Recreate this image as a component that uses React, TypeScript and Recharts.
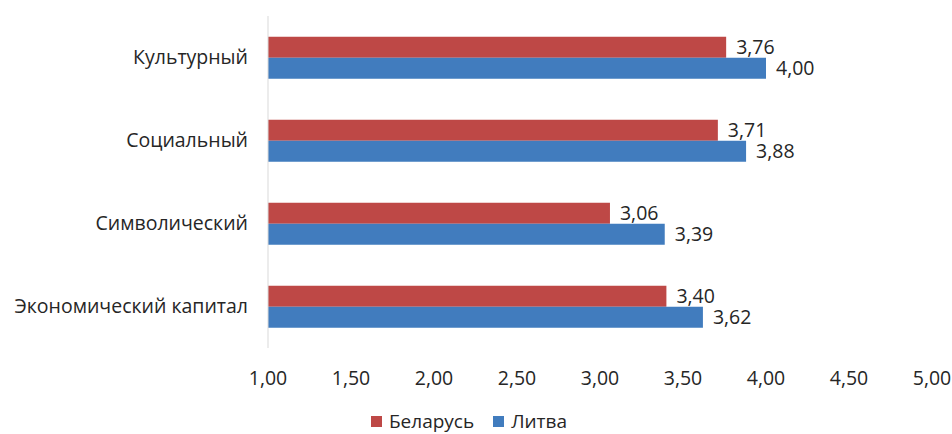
import { BarChart, Bar, XAxis, YAxis, Legend, LabelList } from "recharts";

const categories = ["Культурный", "Социальный", "Символический", "Экономический капитал"];
const belarus = [3.76, 3.71, 3.06, 3.4];
const lithuania = [4.0, 3.88, 3.39, 3.62];
const xTicks = [1, 1.5, 2, 2.5, 3, 3.5, 4, 4.5, 5];

const data = categories.map((name, i) => ({
  name,
  "Беларусь": belarus[i],
  "Литва": lithuania[i],
}));

const fmt = (v: number) => v.toFixed(2).replace(".", ",");

const FONT = "'Open Sans', sans-serif";
const TEXT = "#262626";
const FS = 19.5;

const LegendContent = ({ payload }: any) => (
  <div style={{ display: "flex", justifyContent: "center", alignItems: "center", fontSize: 19, lineHeight: "24px", fontFamily: FONT, color: TEXT, paddingLeft: 6, paddingTop: 5 }}>
    {(payload || []).map((p: any, i: number) => (
      <div key={i} style={{ display: "flex", alignItems: "center", marginLeft: i ? 19 : 0 }}>
        <span style={{ width: 11, height: 11, background: p.color, display: "inline-block", marginRight: 7 }} />
        <span>{p.value}</span>
      </div>
    ))}
  </div>
);

export default function App() {
  return (
    <div style={{ position: "absolute", left: 0, top: 0, width: 952, height: 434, background: "#fff", fontFamily: FONT }}>
      <BarChart
        width={952}
        height={434}
        data={data}
        layout="vertical"
        margin={{ top: 16, right: 20, left: 0, bottom: 0 }}
        barCategoryGap="25%"
        barGap={0}
      >
        <XAxis
          type="number"
          domain={[1, 5]}
          ticks={xTicks}
          tickFormatter={fmt}
          axisLine={false}
          tickLine={false}
          height={56}
          tickMargin={17}
          tick={{ fontSize: FS, fill: TEXT, fontFamily: FONT }}
          interval={0}
        />
        <YAxis
          type="category"
          dataKey="name"
          width={268}
          axisLine={{ stroke: "#D9D9D9" }}
          tickLine={false}
          tickMargin={14}
          tick={{ fontSize: FS, fill: TEXT, fontFamily: FONT }}
          interval={0}
        />
        <Legend
          verticalAlign="bottom"
          height={30}
          content={<LegendContent />}
          wrapperStyle={{ bottom: 0 }}
        />
        <Bar dataKey="Беларусь" fill="#BE4846" isAnimationActive={false}>
          <LabelList dataKey="Беларусь" position="right" offset={10} formatter={fmt} style={{ fontSize: FS, fill: TEXT, fontFamily: FONT }} />
        </Bar>
        <Bar dataKey="Литва" fill="#417CBE" isAnimationActive={false}>
          <LabelList dataKey="Литва" position="right" offset={10} formatter={fmt} style={{ fontSize: FS, fill: TEXT, fontFamily: FONT }} />
        </Bar>
      </BarChart>
    </div>
  );
}
